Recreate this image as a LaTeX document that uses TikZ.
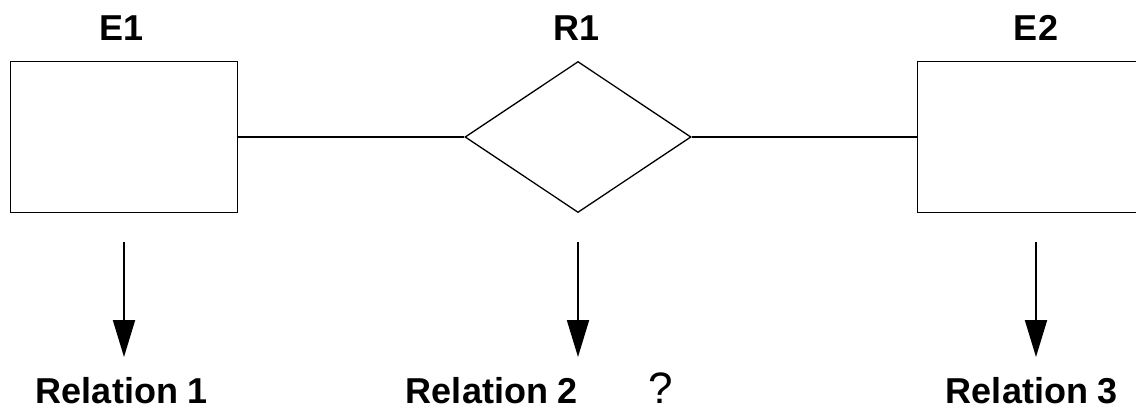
\documentclass[tikz,border=0pt]{standalone}
\usepackage{fontspec}
\setmainfont{Liberation Sans}
\usetikzlibrary{shapes.geometric,arrows.meta}
\begin{document}
\begin{tikzpicture}[x=1pt,y=-1pt,
  ent/.style={draw,line width=1.3pt,rectangle,minimum width=227pt,minimum height=151pt,inner sep=0pt},
  rel/.style={draw,line width=1.3pt,diamond,minimum width=226pt,minimum height=151pt,inner sep=0pt,aspect=1.5},
  lbl/.style={font=\bfseries\fontsize{36}{36}\selectfont,anchor=base,inner sep=0pt},
  conn/.style={line width=1.3pt},
  maparrow/.style={line width=2pt,-{Triangle[width=22pt,length=37pt]}}]
\useasboundingbox (0,0) rectangle (1136,408);
\begin{scope}
\clip (0,0) rectangle (1136,408);
\node[ent] (e1) at (124,137) {};
\node[rel] (r1) at (578,137) {};
\node[ent] (e2) at (1031,137) {};
\end{scope}
\node[lbl] (te1) at (122,40) {E1};
\node[lbl] (tr1) at (577,40) {R1};
\node[lbl] (te2) at (1036,40) {E2};
\draw[conn] (e1.east) -- (r1.west);
\draw[conn] (r1.east) -- (e2.west);
\coordinate (a1s) at (124,242);
\coordinate (a1e) at (124,357);
\coordinate (a2s) at (578,242);
\coordinate (a2e) at (578,357);
\coordinate (a3s) at (1036,242);
\coordinate (a3e) at (1036,357);
\draw[maparrow] (a1s) -- (a1e);
\draw[maparrow] (a2s) -- (a2e);
\draw[maparrow] (a3s) -- (a3e);
\node[lbl] (m1) at (122,403) {Relation 1};
\node[lbl] (m2) at (492,403) {Relation 2};
\node[lbl] (m3) at (1032,403) {Relation 3};
\node[font=\fontsize{44}{44}\selectfont,anchor=base,inner sep=0pt] (q) at (661,403) {?};
\end{tikzpicture}
\end{document}
